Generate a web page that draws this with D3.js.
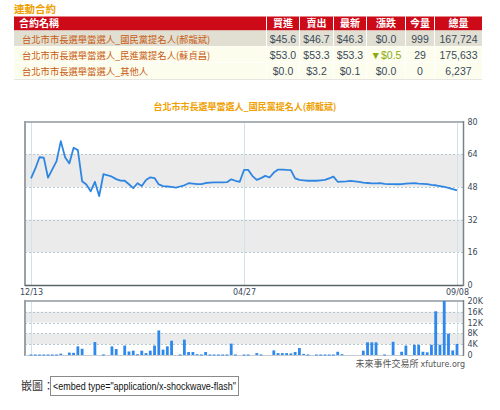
<!DOCTYPE html>
<html><head><meta charset="utf-8">
<script src="https://cdn.jsdelivr.net/npm/d3@7"></script>
<style>body{margin:0;background:#fff;}svg{display:block;}</style>
</head><body>
<svg id="c" width="500" height="410"></svg>
<script>
// ---- data ----
const tableHeaders = ["合約名稱","買進","賣出","最新","漲跌","今量","總量"];
const contractNames = ["台北市市長選舉當選人_國民黨提名人(郝龍斌)","台北市市長選舉當選人_民進黨提名人(蘇貞昌)","台北市市長選舉當選人_其他人"];
const bidPrices = ["$45.6","$53.0","$0.0"];
const askPrices = ["$46.7","$53.3","$3.2"];
const lastPrices = ["$46.3","$53.3","$0.1"];
const changes = ["$0.0","▼$0.5","$0.0"];
const todayVolume = ["999","29","0"];
const totalVolume = ["167,724","175,633","6,237"];

const chartTitle = "台北市市長選舉當選人_國民黨提名人(郝龍斌)";
const dateLabels = ["12/13","04/27","09/08"];
const dateLabelIndex = [0,50,100];
const priceTicks = [0,16,32,48,64,80];
const volumeTicks = [0,4000,8000,12000,16000,20000];

const prices = [52.2,56.9,62.5,62.3,52.5,56.6,60.6,70.4,62.5,59.5,
  67.2,66,50.8,49.2,45.8,50.5,43.5,54.2,53.7,53,
  51.8,51.1,51,49.3,47.4,49.8,48.4,51.4,52.7,52.3,
  49.2,48.4,48.2,48,47.6,48.2,48.8,49.8,49.6,49.4,
  49.4,49.9,50.1,50.2,50.2,50.2,50.3,51.7,51,50.5,
  56.3,56.3,53.3,51.4,52.3,53.4,52.6,55,56.5,56.5,
  56.3,56.2,52.2,51.4,51.2,51,51,51,51.2,51.4,
  52.2,53,50.5,50.6,50.7,50.9,50.7,50.5,50.1,49.9,
  49.7,49.7,49.8,49.5,49.4,49.4,49.3,49.4,49.6,49.7,
  49.8,49.6,49.5,49.4,49,48.8,48.4,48,47.5,46.9,46.3];

const volumes = [150,100,150,100,150,150,100,500,0,900,
  800,3200,2300,0,0,4800,0,200,0,3200,
  2200,0,3500,1300,1600,300,1600,700,1600,3500,
  9100,2000,3200,5300,0,200,5700,1100,1100,300,
  150,1100,150,100,150,100,150,4200,200,0,
  100,150,0,700,200,0,0,1700,700,700,
  700,600,1100,2600,400,200,0,150,100,150,
  100,150,1200,300,0,0,0,0,1600,4700,
  4700,4700,0,200,0,4900,0,1200,3500,0,
  3800,3800,1200,1000,3800,16200,3800,20000,7900,1700,4100];

// ---- drawing ----
const svg = d3.select("#c");
const cjk = "'Noto Sans CJK TC','Noto Sans CJK SC',sans-serif";
const latin = "Arial,'Liberation Sans',sans-serif";
const verd = "Verdana,'DejaVu Sans',sans-serif";

// Title
svg.append("text").attr("x",14).attr("y",12.5).text("連動合約")
  .attr("font-family",cjk).attr("font-size",10.5).attr("font-weight","bold").attr("fill","#f0a000");

// Table
const colEdges = [14,266,299,333,366,405,434,482];
const rowTops = [16.5,30.5,46.5,63];
const rowH = [14,16,16,16];
svg.append("rect").attr("x",14).attr("y",rowTops[0]).attr("width",468).attr("height",rowH[0]).attr("fill","#cc0a18");
const rowFills = ["#e0dfd2","#fdfdee","#fdfdee"];
rowFills.forEach((f,i)=>{
  svg.append("rect").attr("x",14).attr("y",rowTops[i+1]).attr("width",468).attr("height",rowH[i+1]-0.5).attr("fill",f);
});
colEdges.slice(1,-1).forEach(x=>{
  svg.append("line").attr("x1",x+0.5).attr("x2",x+0.5).attr("y1",rowTops[0]).attr("y2",79)
    .attr("stroke","#fff").attr("stroke-width",1);
});
svg.append("line").attr("x1",14).attr("x2",482).attr("y1",79.5).attr("y2",79.5).attr("stroke","#e6e6dc");
tableHeaders.forEach((h,i)=>{
  const t = svg.append("text").attr("y",rowTops[0]+10.5).text(h)
    .attr("font-family",cjk).attr("font-size",10).attr("font-weight","bold").attr("fill","#fff");
  if(i===0) t.attr("x",19);
  else t.attr("x",(colEdges[i]+colEdges[i+1])/2+0.5).attr("text-anchor","middle");
});
const cols = [bidPrices,askPrices,lastPrices,changes,todayVolume,totalVolume];
contractNames.forEach((n,r)=>{
  const y = rowTops[r+1]+12;
  svg.append("text").attr("x",22).attr("y",y).text(n)
    .attr("font-family",cjk).attr("font-size",9.3).attr("fill","#c85a10");
  cols.forEach((c,ci)=>{
    const isDown = c[r].startsWith("▼");
    svg.append("text").attr("x",(colEdges[ci+1]+colEdges[ci+2])/2+0.5).attr("y",y)
      .attr("text-anchor","middle").text(c[r])
      .attr("font-family",latin).attr("font-size",10.5)
      .attr("fill", isDown ? "#8aaa10" : "#3a4a5a");
  });
});

// Main chart
const xL = 31, xR = 457;
const x = d3.scaleLinear().domain([0,prices.length-1]).range([xL,xR]);
const y = d3.scaleLinear().domain([0,80]).range([285,121.5]);
const fL = 25, fR = 463.5;

svg.append("text").attr("x",245).attr("y",110).attr("text-anchor","middle").text(chartTitle)
  .attr("font-family",cjk).attr("font-size",9).attr("font-weight","bold").attr("fill","#f0a000");

const g = svg.append("g");
[[48,64],[16,32]].forEach(([a,b])=>{
  g.append("rect").attr("x",fL).attr("width",fR-fL).attr("y",y(b)).attr("height",y(a)-y(b)).attr("fill","#ebebeb");
});
[16,32,48,64].forEach(v=>{
  g.append("line").attr("x1",fL).attr("x2",fR).attr("y1",Math.round(y(v))+0.5).attr("y2",Math.round(y(v))+0.5)
    .attr("stroke","#b4c8d0").attr("stroke-dasharray","2,2");
});
dateLabelIndex.forEach(i=>{
  g.append("line").attr("x1",Math.round(x(i))+0.5).attr("x2",Math.round(x(i))+0.5).attr("y1",122).attr("y2",285)
    .attr("stroke","#cfe3ea");
});
g.append("line").attr("x1",fL).attr("x2",fR).attr("y1",122).attr("y2",122).attr("stroke","#aab2b8").attr("stroke-width",2);
g.append("line").attr("x1",fL).attr("x2",fL).attr("y1",121).attr("y2",286).attr("stroke","#9aa2a8").attr("stroke-width",2);
g.append("line").attr("x1",fL).attr("x2",fR).attr("y1",285.5).attr("y2",285.5).attr("stroke","#5a6468").attr("stroke-width",1.5);
g.append("line").attr("x1",fR).attr("x2",fR).attr("y1",121).attr("y2",286).attr("stroke","#7a8488").attr("stroke-width",1.5);

g.append("path").datum(prices)
  .attr("d", d3.line().x((d,i)=>x(i)).y(d=>y(d)))
  .attr("fill","none").attr("stroke","#2e86e2").attr("stroke-width",1.8).attr("stroke-linejoin","round");

const yAxis = d3.axisRight(y).tickValues(priceTicks).tickSize(0).tickPadding(4);
const ya = svg.append("g").attr("transform",`translate(${fR},0)`).call(yAxis);
ya.select(".domain").remove();
ya.selectAll("text").attr("font-family",verd).attr("font-size",8).attr("fill","#3a4a5a");

const xa = svg.append("g").attr("transform","translate(0,285)")
  .call(d3.axisBottom(x).tickValues(dateLabelIndex).tickFormat((d,i)=>dateLabels[i]).tickSize(0).tickPadding(4));
xa.select(".domain").remove();
xa.selectAll("text").attr("font-family",verd).attr("font-size",8).attr("fill","#3a4a5a");

// Volume chart
const vy = d3.scaleLinear().domain([0,20000]).range([355,301]);
const vg = svg.append("g");
[[12000,16000],[4000,8000]].forEach(([a,b])=>{
  vg.append("rect").attr("x",fL).attr("width",fR-fL).attr("y",vy(b)).attr("height",vy(a)-vy(b)).attr("fill","#ebebeb");
});
[4000,8000,12000,16000].forEach(v=>{
  vg.append("line").attr("x1",fL).attr("x2",fR).attr("y1",Math.round(vy(v))+0.5).attr("y2",Math.round(vy(v))+0.5)
    .attr("stroke","#b4c8d0").attr("stroke-dasharray","2,2");
});
[0,100].forEach(i=>{
  vg.append("line").attr("x1",Math.round(x(i))+0.5).attr("x2",Math.round(x(i))+0.5).attr("y1",301).attr("y2",355)
    .attr("stroke","#cfe3ea");
});
vg.append("line").attr("x1",fL).attr("x2",fR).attr("y1",301).attr("y2",301).attr("stroke","#aab2b8").attr("stroke-width",2);
vg.append("line").attr("x1",fL).attr("x2",fL).attr("y1",300).attr("y2",356).attr("stroke","#9aa2a8").attr("stroke-width",2);
vg.append("line").attr("x1",fL).attr("x2",fR).attr("y1",355.5).attr("y2",355.5).attr("stroke","#c8ccd0").attr("stroke-width",1);
vg.append("line").attr("x1",fR).attr("x2",fR).attr("y1",300).attr("y2",356).attr("stroke","#7a8488").attr("stroke-width",1.5);

vg.selectAll("rect.bar").data(volumes).join("rect").attr("class","bar")
  .attr("x",(d,i)=>x(i)-1.4).attr("width",2.8)
  .attr("y",d=>Math.min(vy(d),354.5)).attr("height",d=>d>0?Math.max(355-vy(d),1):0)
  .attr("fill","#2f88ec");

const vAxis = d3.axisRight(vy).tickValues(volumeTicks).tickSize(0).tickPadding(4)
  .tickFormat(d=> d===0 ? "0" : (d/1000)+"K");
const va = svg.append("g").attr("transform",`translate(${fR},0)`).call(vAxis);
va.select(".domain").remove();
va.selectAll("text").attr("font-family",verd).attr("font-size",8).attr("fill","#3a4a5a");

svg.append("text").attr("x",465).attr("y",367).attr("text-anchor","end")
  .attr("font-size",9).attr("fill","#555")
  .call(t=>{
    t.append("tspan").attr("font-family",cjk).text("未來事件交易所 ");
    t.append("tspan").attr("font-family",verd).attr("font-size",8).text(" xfuture.org");
  });

svg.append("text").attr("x",21).attr("y",390).text("嵌圖：")
  .attr("font-family",cjk).attr("font-size",11).attr("fill","#333");
svg.append("rect").attr("x",50.5).attr("y",376.5).attr("width",188).attr("height",19)
  .attr("fill","#fff").attr("stroke","#8a8a8a");
svg.append("text").attr("x",53).attr("y",390).text('<embed type="application/x-shockwave-flash"')
  .attr("font-family",latin).attr("font-size",11.5).attr("fill","#111")
  .attr("textLength",183).attr("lengthAdjust","spacingAndGlyphs");
</script>
</body></html>
